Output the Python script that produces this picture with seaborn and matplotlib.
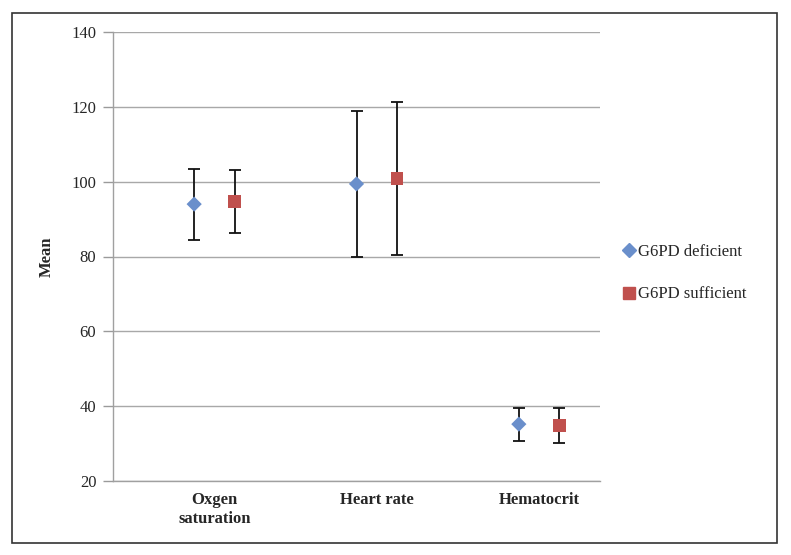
import matplotlib
matplotlib.use("Agg")
import matplotlib.pyplot as plt
import seaborn as sns
import pandas as pd
import numpy as np
from matplotlib.patches import Rectangle
from matplotlib.lines import Line2D

categories = ["Oxgen\nsaturation", "Heart rate", "Hematocrit"]
groups = ["G6PD deficient", "G6PD sufficient"]
deficient_mean = [94.0, 99.4, 35.2]
deficient_low = [84.5, 79.9, 30.8]
deficient_high = [103.5, 119.0, 39.6]
sufficient_mean = [94.8, 100.8, 34.9]
sufficient_low = [86.4, 80.3, 30.2]
sufficient_high = [103.2, 121.2, 39.5]
yticks = [20, 40, 60, 80, 100, 120, 140]

colors = {"G6PD deficient": "#6A8FCB", "G6PD sufficient": "#C0504D"}
markers = {"G6PD deficient": "D", "G6PD sufficient": "s"}
msizes = {"G6PD deficient": 60, "G6PD sufficient": 85}
offsets = {"G6PD deficient": 0.0, "G6PD sufficient": 0.25}

rows = []
for g, m, lo, hi in [("G6PD deficient", deficient_mean, deficient_low, deficient_high),
                     ("G6PD sufficient", sufficient_mean, sufficient_low, sufficient_high)]:
    for i, c in enumerate(categories):
        rows.append({"cat": c, "idx": i, "group": g, "mean": m[i], "low": lo[i], "high": hi[i]})
df = pd.DataFrame(rows)
df["x"] = df["idx"] + df["group"].map(offsets)

sns.set_theme(style="white")
plt.rcParams["font.family"] = ["Liberation Serif", "DejaVu Serif"]

fig = plt.figure(figsize=(7.91, 5.55), dpi=100)
ax = fig.add_axes([113/791, 74/555, 487/791, 449/555])

for g in groups:
    sub = df[df["group"] == g]
    ax.errorbar(sub["x"], sub["mean"],
                yerr=[sub["mean"] - sub["low"], sub["high"] - sub["mean"]],
                fmt="none", ecolor="#111111", elinewidth=1.3, capsize=4.5, capthick=1.3, zorder=3)
    sns.scatterplot(data=sub, x="x", y="mean", color=colors[g], marker=markers[g],
                    s=msizes[g], edgecolor="none", ax=ax, zorder=4, legend=False)

ax.set_xlim(-0.5, 2.5)
ax.set_ylim(20, 140)
ax.set_yticks(yticks)
ax.set_yticklabels([str(t) for t in yticks], fontsize=12)
ax.set_xticks([i + 0.125 for i in range(len(categories))])
ax.set_xticklabels(categories, fontsize=12, fontweight="bold", va="top")
ax.tick_params(axis="x", length=0, pad=8)
ax.tick_params(axis="y", length=7, width=1, color="#9A9A9A", direction="out", left=True, pad=5)
ax.grid(axis="y", color="#A8A8A8", linewidth=1.0)
ax.set_axisbelow(True)
for s in ["top", "right"]:
    ax.spines[s].set_visible(False)
for s in ["left", "bottom"]:
    ax.spines[s].set_color("#A0A0A0")
    ax.spines[s].set_linewidth(1.0)
ax.set_xlabel("")
ax.set_ylabel("Mean", fontsize=12, fontweight="bold", labelpad=12)

handles = [Line2D([], [], marker=markers[g], color=colors[g], linestyle="none",
                  markersize=7 if markers[g] == "D" else 8)
           for g in groups]
leg = fig.legend(handles, groups, loc="center left", bbox_to_anchor=(606/791, 1 - 273/555),
                 frameon=False, fontsize=12, handletextpad=0.0, labelspacing=1.6,
                 handlelength=1.0)

fig.patches.append(Rectangle((12/791, 12/555), 765/791, 530/555, transform=fig.transFigure,
                             fill=False, edgecolor="#333333", linewidth=1.2))

fig.savefig("out.png", dpi=100)
